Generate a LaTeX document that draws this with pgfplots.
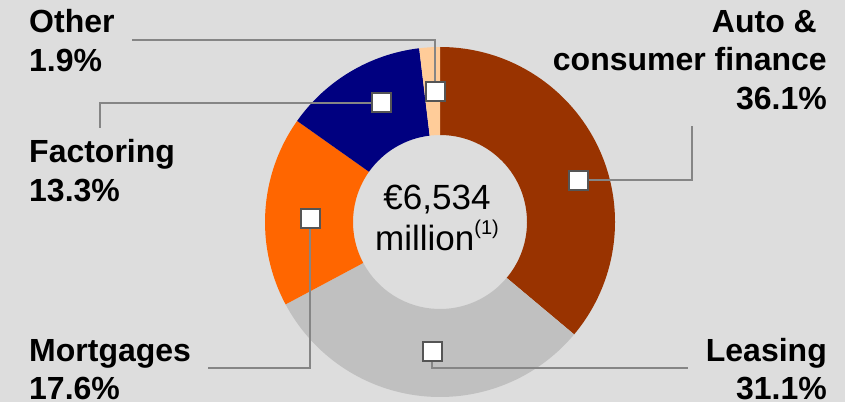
\documentclass[border=0pt]{standalone}
\usepackage{pgfplots}
\usepackage{pgfplotstable}
\pgfplotsset{compat=1.18}
\usepackage{fontspec}
\setmainfont{Liberation Sans}
\definecolor{bg}{HTML}{DDDDDD}
\definecolor{cauto}{HTML}{993300}
\definecolor{clease}{HTML}{C0C0C0}
\definecolor{cmort}{HTML}{FF6600}
\definecolor{cfact}{HTML}{000080}
\definecolor{cother}{HTML}{FFCC99}
\definecolor{linegray}{HTML}{858585}
\definecolor{markgray}{HTML}{555555}

\pgfplotstableread{
label pct
Auto 36.1
Leasing 31.1
Mortgages 17.6
Factoring 13.3
Other 1.9
}\donut

\newcommand{\sector}[3]{%
  \pgfmathsetmacro\aS{90-3.6*(#1)}%
  \pgfmathsetmacro\aE{90-3.6*(#1+#2)}%
  \edef\tmp{\noexpand\fill[#3] ([shift={(\aS:175pt)}]axis cs:440,180)
    arc[start angle=\aS, end angle=\aE, radius=175pt]
    -- ([shift={(\aE:87pt)}]axis cs:440,180)
    arc[start angle=\aE, end angle=\aS, radius=87pt] -- cycle;}%
  \tmp}

\newcommand{\labfont}{\fontsize{32}{38}\selectfont\bfseries}
\newcommand{\cenfont}{\fontsize{35}{41}\selectfont}

\begin{document}
\begin{tikzpicture}
\path[use as bounding box] (0,0) rectangle (845pt,402pt);
\clip (0,0) rectangle (845pt,402pt);
\fill[bg] (0,0) rectangle (845pt,402pt);
\begin{axis}[
  x=1pt, y=1pt,
  xmin=0, xmax=845, ymin=0, ymax=402,
  at={(0pt,0pt)}, anchor=origin,
  hide axis, clip=false,
]
\pgfplotstablegetelem{0}{pct}\of\donut \let\vA\pgfplotsretval
\pgfplotstablegetelem{1}{pct}\of\donut \let\vB\pgfplotsretval
\pgfplotstablegetelem{2}{pct}\of\donut \let\vC\pgfplotsretval
\pgfplotstablegetelem{3}{pct}\of\donut \let\vD\pgfplotsretval
\pgfplotstablegetelem{4}{pct}\of\donut \let\vE\pgfplotsretval
\pgfmathsetmacro\cB{\vA}
\pgfmathsetmacro\cC{\vA+\vB}
\pgfmathsetmacro\cD{\vA+\vB+\vC}
\pgfmathsetmacro\cE{\vA+\vB+\vC+\vD}
\sector{0}{\vA}{cauto}
\sector{\cB}{\vB}{clease}
\sector{\cC}{\vC}{cmort}
\sector{\cD}{\vD}{cfact}
\sector{\cE}{\vE}{cother}

% connector lines
\addplot[linegray, line width=1.5pt, forget plot] coordinates {(435,310) (435,362) (132,362)};
\addplot[linegray, line width=1.5pt, forget plot] coordinates {(381,299) (100,299) (100,274)};
\addplot[linegray, line width=1.5pt, forget plot] coordinates {(578,222) (692,222) (692,276)};
\addplot[linegray, line width=1.5pt, forget plot] coordinates {(310,184) (310,34) (208,34)};
\addplot[linegray, line width=1.5pt, forget plot] coordinates {(432,51) (432,34) (688,34)};

% markers
\addplot[only marks, mark=square*, mark size=9.5pt,
  mark options={fill=white, draw=markgray, line width=2pt}]
  coordinates {(435,310) (381,299) (578,222) (310,184) (432,51)};

% labels
\node[anchor=base west, inner sep=0, font=\labfont] at (axis cs:29,369) {Other};
\node[anchor=base west, inner sep=0, font=\labfont] at (axis cs:29,330) {1.9\%};
\node[anchor=base west, inner sep=0, font=\labfont] at (axis cs:29,240) {Factoring};
\node[anchor=base west, inner sep=0, font=\labfont] at (axis cs:29,201) {13.3\%};
\node[anchor=base west, inner sep=0, font=\labfont] at (axis cs:29,41) {Mortgages};
\node[anchor=base west, inner sep=0, font=\labfont] at (axis cs:29,3) {17.6\%};
\node[anchor=base east, inner sep=0, font=\labfont] at (axis cs:817,369) {Auto \&};
\node[anchor=base east, inner sep=0, font=\labfont] at (axis cs:827,331) {consumer finance};
\node[anchor=base east, inner sep=0, font=\labfont] at (axis cs:827,292) {36.1\%};
\node[anchor=base east, inner sep=0, font=\labfont] at (axis cs:827,41) {Leasing};
\node[anchor=base east, inner sep=0, font=\labfont] at (axis cs:827,3) {31.1\%};

% centre text
\node[anchor=base, inner sep=0, font=\cenfont] at (axis cs:437,193) {€6,534};
\node[anchor=base, inner sep=0, font=\cenfont] at (axis cs:437,152) {million\raisebox{0.45em}{\fontsize{20}{20}\selectfont(1)}};
\end{axis}
\end{tikzpicture}
\end{document}
